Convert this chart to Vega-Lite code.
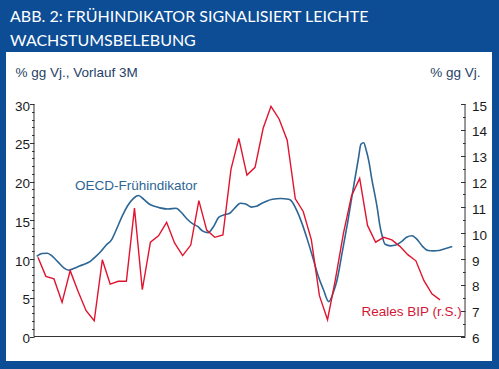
{
  "$schema": "https://vega.github.io/schema/vega-lite/v6.json",
  "width": 486,
  "height": 309,
  "autosize": {"type": "none"},
  "padding": {"left": 6, "top": 52, "right": 7, "bottom": 8},
  "background": "#0c4d96",
  "view": {"fill": "white", "stroke": null},
  "title": {
    "text": ["ABB. 2: FRÜHINDIKATOR SIGNALISIERT LEICHTE", "WACHSTUMSBELEBUNG"],
    "anchor": "start",
    "frame": "group",
    "color": "white",
    "font": "Lato",
    "fontSize": 16,
    "fontWeight": "normal",
    "lineHeight": 24,
    "baseline": "bottom",
    "offset": -13,
    "dx": 4
  },
  "datasets": {
    "oecd": [
      {"date": "2000-02-01", "v": 10.35}, {"date": "2000-04-01", "v": 10.7}, {"date": "2000-06-01", "v": 10.75},
      {"date": "2000-08-01", "v": 10.3}, {"date": "2000-10-01", "v": 9.6}, {"date": "2000-12-01", "v": 8.9},
      {"date": "2001-02-01", "v": 8.55}, {"date": "2001-04-01", "v": 8.8}, {"date": "2001-06-01", "v": 9.1},
      {"date": "2001-08-01", "v": 9.35}, {"date": "2001-10-01", "v": 9.7}, {"date": "2001-12-01", "v": 10.3},
      {"date": "2002-02-01", "v": 11.0}, {"date": "2002-04-01", "v": 11.8}, {"date": "2002-06-01", "v": 12.5},
      {"date": "2002-08-01", "v": 14.0}, {"date": "2002-10-01", "v": 15.6}, {"date": "2002-12-01", "v": 16.9},
      {"date": "2003-02-01", "v": 17.8}, {"date": "2003-04-01", "v": 18.2}, {"date": "2003-06-01", "v": 17.7},
      {"date": "2003-08-01", "v": 17.1}, {"date": "2003-10-01", "v": 16.8}, {"date": "2003-12-01", "v": 16.6},
      {"date": "2004-03-01", "v": 16.45}, {"date": "2004-06-01", "v": 16.55}, {"date": "2004-08-01", "v": 16.0},
      {"date": "2004-10-01", "v": 15.2}, {"date": "2004-12-01", "v": 14.6}, {"date": "2005-02-01", "v": 14.2},
      {"date": "2005-04-01", "v": 13.6}, {"date": "2005-06-01", "v": 13.4}, {"date": "2005-08-01", "v": 14.2},
      {"date": "2005-10-01", "v": 15.4}, {"date": "2005-12-01", "v": 15.7}, {"date": "2006-02-01", "v": 15.9},
      {"date": "2006-04-01", "v": 16.6}, {"date": "2006-06-01", "v": 17.2}, {"date": "2006-08-01", "v": 17.1},
      {"date": "2006-10-01", "v": 16.7}, {"date": "2006-12-01", "v": 16.8}, {"date": "2007-02-01", "v": 17.2},
      {"date": "2007-04-01", "v": 17.5}, {"date": "2007-06-01", "v": 17.7}, {"date": "2007-09-01", "v": 17.8},
      {"date": "2007-12-01", "v": 17.7}, {"date": "2008-01-01", "v": 17.5}, {"date": "2008-03-01", "v": 16.3},
      {"date": "2008-05-01", "v": 14.6}, {"date": "2008-07-01", "v": 12.5}, {"date": "2008-09-01", "v": 10.2},
      {"date": "2008-11-01", "v": 7.8}, {"date": "2009-01-01", "v": 6.0}, {"date": "2009-03-01", "v": 4.5},
      {"date": "2009-05-01", "v": 6.0}, {"date": "2009-06-01", "v": 7.2}, {"date": "2009-08-01", "v": 10.9},
      {"date": "2009-10-01", "v": 14.7}, {"date": "2009-12-01", "v": 18.9}, {"date": "2010-02-01", "v": 23.0},
      {"date": "2010-03-01", "v": 24.8}, {"date": "2010-04-01", "v": 25.0}, {"date": "2010-05-01", "v": 24.0},
      {"date": "2010-06-01", "v": 22.5}, {"date": "2010-07-01", "v": 20.4}, {"date": "2010-08-01", "v": 18.6},
      {"date": "2010-09-01", "v": 16.7}, {"date": "2010-10-01", "v": 14.4}, {"date": "2010-11-01", "v": 12.8},
      {"date": "2010-12-01", "v": 11.9}, {"date": "2011-02-01", "v": 11.7}, {"date": "2011-04-01", "v": 11.8},
      {"date": "2011-06-01", "v": 12.2}, {"date": "2011-08-01", "v": 12.8}, {"date": "2011-10-01", "v": 13.0},
      {"date": "2011-12-01", "v": 12.5}, {"date": "2012-02-01", "v": 11.6}, {"date": "2012-04-01", "v": 11.1},
      {"date": "2012-06-01", "v": 11.05}, {"date": "2012-08-01", "v": 11.1}, {"date": "2012-10-01", "v": 11.3},
      {"date": "2013-01-01", "v": 11.6}
    ],
    "bip": [
      {"date": "2000-02-15", "v": 9.07}, {"date": "2000-05-15", "v": 8.33}, {"date": "2000-08-15", "v": 8.23},
      {"date": "2000-11-15", "v": 7.32}, {"date": "2001-02-15", "v": 8.55}, {"date": "2001-05-15", "v": 7.75},
      {"date": "2001-08-15", "v": 7.0}, {"date": "2001-11-15", "v": 6.61}, {"date": "2002-02-15", "v": 8.97},
      {"date": "2002-05-15", "v": 8.03}, {"date": "2002-08-15", "v": 8.14}, {"date": "2002-11-15", "v": 8.14},
      {"date": "2003-02-15", "v": 10.97}, {"date": "2003-05-15", "v": 7.81}, {"date": "2003-08-15", "v": 9.65},
      {"date": "2003-11-15", "v": 9.9}, {"date": "2004-02-15", "v": 10.42}, {"date": "2004-05-15", "v": 9.62},
      {"date": "2004-08-15", "v": 9.13}, {"date": "2004-11-15", "v": 9.54}, {"date": "2005-02-15", "v": 11.26},
      {"date": "2005-05-15", "v": 10.12}, {"date": "2005-08-15", "v": 9.84}, {"date": "2005-11-15", "v": 9.93},
      {"date": "2006-02-15", "v": 12.48}, {"date": "2006-05-15", "v": 13.67}, {"date": "2006-08-15", "v": 12.25},
      {"date": "2006-11-15", "v": 12.55}, {"date": "2007-02-15", "v": 14.06}, {"date": "2007-05-15", "v": 14.91},
      {"date": "2007-08-15", "v": 14.42}, {"date": "2007-11-15", "v": 13.6}, {"date": "2008-02-15", "v": 11.33},
      {"date": "2008-05-15", "v": 10.84}, {"date": "2008-08-15", "v": 9.75}, {"date": "2008-11-15", "v": 7.58},
      {"date": "2009-02-15", "v": 6.65}, {"date": "2009-05-15", "v": 8.2}, {"date": "2009-08-15", "v": 10.0},
      {"date": "2009-11-15", "v": 11.45}, {"date": "2010-02-15", "v": 12.12}, {"date": "2010-05-15", "v": 10.3},
      {"date": "2010-08-15", "v": 9.65}, {"date": "2010-11-15", "v": 9.84}, {"date": "2011-02-15", "v": 9.74},
      {"date": "2011-05-15", "v": 9.5}, {"date": "2011-08-15", "v": 9.17}, {"date": "2011-11-15", "v": 8.93},
      {"date": "2012-02-15", "v": 8.16}, {"date": "2012-05-15", "v": 7.65}, {"date": "2012-08-15", "v": 7.42}
    ]
  },
  "layer": [
    {
      "data": {"values": [{}]},
      "mark": {"type": "rule", "color": "#333333", "strokeWidth": 1},
      "encoding": {
        "x": {"datum": {"year": 2000, "month": 1, "date": 1, "utc": true}, "type": "temporal",
              "scale": {"type": "utc", "domain": [{"year": 1999, "month": 2, "date": 17, "hours": 7, "utc": true}, {"year": 2014, "month": 3, "date": 28, "hours": 9, "utc": true}]},
              "axis": null},
        "x2": {"datum": {"year": 2013, "month": 5, "date": 26, "utc": true}},
        "y": {"datum": 0, "type": "quantitative", "scale": {"domain": [-3.161, 36.71], "nice": false, "zero": false}, "axis": null}
      }
    },
    {
      "data": {"values": [{}]},
      "mark": {"type": "rule", "color": "#333333", "strokeWidth": 1},
      "encoding": {
        "x": {"datum": {"year": 2000, "month": 1, "date": 1, "utc": true}, "type": "temporal",
              "scale": {"type": "utc", "domain": [{"year": 1999, "month": 2, "date": 17, "hours": 7, "utc": true}, {"year": 2014, "month": 3, "date": 28, "hours": 9, "utc": true}]},
              "axis": null},
        "y": {"datum": 0, "type": "quantitative", "scale": {"domain": [-3.161, 36.71], "nice": false, "zero": false}, "axis": null},
        "y2": {"datum": 30}
      }
    },
    {
      "data": {"values": [{}]},
      "mark": {"type": "rule", "color": "#333333", "strokeWidth": 1},
      "encoding": {
        "x": {"datum": {"year": 2013, "month": 5, "date": 26, "utc": true}, "type": "temporal",
              "scale": {"type": "utc", "domain": [{"year": 1999, "month": 2, "date": 17, "hours": 7, "utc": true}, {"year": 2014, "month": 3, "date": 28, "hours": 9, "utc": true}]},
              "axis": null},
        "y": {"datum": 0, "type": "quantitative", "scale": {"domain": [-3.161, 36.71], "nice": false, "zero": false}, "axis": null},
        "y2": {"datum": 30}
      }
    },
    {
      "data": {"name": "oecd"},
      "mark": {"type": "line", "color": "#2c6694", "strokeWidth": 1.6, "interpolate": "monotone"},
      "encoding": {
        "x": {"field": "date", "type": "temporal",
              "scale": {"type": "utc", "domain": [{"year": 1999, "month": 2, "date": 17, "hours": 7, "utc": true}, {"year": 2014, "month": 3, "date": 28, "hours": 9, "utc": true}]},
              "axis": {
                "title": null, "domain": false, "grid": false, "offset": -24.5,
                "values": [
                  {"year": 2000, "month": 1, "date": 1, "utc": true}, {"year": 2001, "month": 1, "date": 1, "utc": true},
                  {"year": 2002, "month": 1, "date": 1, "utc": true}, {"year": 2003, "month": 1, "date": 1, "utc": true},
                  {"year": 2004, "month": 1, "date": 1, "utc": true}, {"year": 2005, "month": 1, "date": 1, "utc": true},
                  {"year": 2006, "month": 1, "date": 1, "utc": true}, {"year": 2007, "month": 1, "date": 1, "utc": true},
                  {"year": 2008, "month": 1, "date": 1, "utc": true}, {"year": 2009, "month": 1, "date": 1, "utc": true},
                  {"year": 2010, "month": 1, "date": 1, "utc": true}, {"year": 2011, "month": 1, "date": 1, "utc": true},
                  {"year": 2012, "month": 1, "date": 1, "utc": true}, {"year": 2013, "month": 1, "date": 1, "utc": true}
                ],
                "format": "%y",
                "labelExpr": "utcyear(datum.value) > 2012 ? '' : datum.label",
                "labelOffset": 16, "labelPadding": 1, "tickSize": 4, "tickColor": "#333333",
                "labelFont": "Liberation Sans", "labelFontSize": 13.5, "labelColor": "#1a1a1a",
                "labelFlush": false, "labelOverlap": false, "labelBound": false
              }},
        "y": {"field": "v", "type": "quantitative",
              "scale": {"domain": [-3.161, 36.71], "nice": false, "zero": false},
              "axis": {
                "orient": "left", "offset": -28, "domain": false, "grid": false,
                "values": [0,1,2,3,4,5,6,7,8,9,10,11,12,13,14,15,16,17,18,19,20,21,22,23,24,25,26,27,28,29,30],
                "format": ".0f",
                "labelExpr": "datum.value % 5 === 0 ? datum.label : ''",
                "tickSize": {"condition": {"test": "datum.value % 5 === 0", "value": 4.5}, "value": 2.5},
                "tickColor": "#333333", "labelPadding": 0, "labelOffset": 2,
                "labelFont": "Liberation Sans", "labelFontSize": 13.5, "labelColor": "#1a1a1a", "labelOverlap": false,
                "title": "% gg Vj., Vorlauf 3M", "titleAngle": 0, "titleAlign": "left", "titleBaseline": "middle",
                "titleX": -19, "titleY": 20.5, "titleFont": "Liberation Sans", "titleFontSize": 13.5,
                "titleFontWeight": "normal", "titleColor": "#1f3f66"
              }}
      }
    },
    {
      "data": {"name": "bip"},
      "mark": {"type": "line", "color": "#e0142e", "strokeWidth": 1.4},
      "encoding": {
        "x": {"field": "date", "type": "temporal",
              "scale": {"type": "utc", "domain": [{"year": 1999, "month": 2, "date": 17, "hours": 7, "utc": true}, {"year": 2014, "month": 3, "date": 28, "hours": 9, "utc": true}]},
              "axis": null},
        "y": {"field": "v", "type": "quantitative",
              "scale": {"domain": [5.052, 17.013], "nice": false, "zero": false},
              "axis": {
                "orient": "right", "offset": -27, "domain": false, "grid": false,
                "values": [6,6.5,7,7.5,8,8.5,9,9.5,10,10.5,11,11.5,12,12.5,13,13.5,14,14.5,15],
                "format": ".0f",
                "labelExpr": "datum.value % 1 === 0 ? datum.label : ''",
                "tickSize": {"condition": {"test": "datum.value % 1 === 0", "value": -4.5}, "value": -2.5},
                "tickColor": "#333333", "labelPadding": 11, "labelOffset": 2,
                "labelFont": "Liberation Sans", "labelFontSize": 13.5, "labelColor": "#1a1a1a", "labelOverlap": false,
                "title": "% gg Vj.", "titleAngle": 0, "titleAlign": "right", "titleBaseline": "middle",
                "titleX": 15, "titleY": 20.5, "titleFont": "Liberation Sans", "titleFontSize": 13.5,
                "titleFontWeight": "normal", "titleColor": "#1f3f66"
              }}
      }
    },
    {
      "data": {"values": [{}]},
      "mark": {"type": "text", "color": "#2c6694", "font": "Liberation Sans", "fontSize": 13.5, "align": "left", "baseline": "middle"},
      "encoding": {
        "x": {"datum": {"year": 2001, "month": 4, "date": 10, "utc": true}, "type": "temporal",
              "scale": {"type": "utc", "domain": [{"year": 1999, "month": 2, "date": 17, "hours": 7, "utc": true}, {"year": 2014, "month": 3, "date": 28, "hours": 9, "utc": true}]},
              "axis": null},
        "y": {"datum": 19.45, "type": "quantitative", "scale": {"domain": [-3.161, 36.71], "nice": false, "zero": false}, "axis": null},
        "text": {"value": "OECD-Frühindikator"}
      }
    },
    {
      "data": {"values": [{}]},
      "mark": {"type": "text", "color": "#d41736", "font": "Liberation Sans", "fontSize": 13.5, "align": "left", "baseline": "middle"},
      "encoding": {
        "x": {"datum": {"year": 2010, "month": 3, "date": 8, "utc": true}, "type": "temporal",
              "scale": {"type": "utc", "domain": [{"year": 1999, "month": 2, "date": 17, "hours": 7, "utc": true}, {"year": 2014, "month": 3, "date": 28, "hours": 9, "utc": true}]},
              "axis": null},
        "y": {"datum": 6.96, "type": "quantitative", "scale": {"domain": [5.052, 17.013], "nice": false, "zero": false}, "axis": null},
        "text": {"value": "Reales BIP (r.S.)"}
      }
    }
  ],
  "resolve": {"scale": {"y": "independent"}, "axis": {"y": "independent"}},
  "config": {"font": "Liberation Sans"}
}
